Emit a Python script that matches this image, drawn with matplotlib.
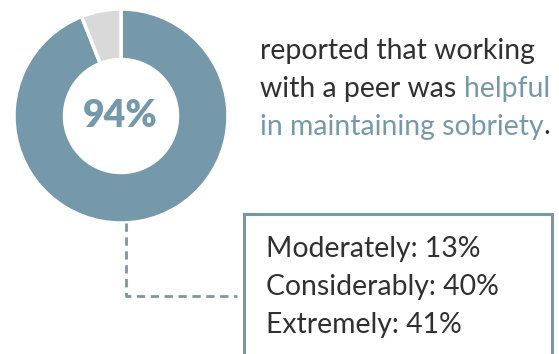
import matplotlib
matplotlib.use("Agg")
import matplotlib.pyplot as plt
from matplotlib.patches import Rectangle

# data
shares = [94, 6]
share_labels = ["helpful", "not helpful"]
center_label = "94%"
detail_labels = ["Moderately", "Considerably", "Extremely"]
detail_values = [13, 40, 41]

BLUE = "#7599ab"
GREY = "#d9d9d9"
DARK = "#303030"

W, H = 559, 354
fig = plt.figure(figsize=(W / 100, H / 100), dpi=100)
ax = fig.add_axes([0, 0, 1, 1])
ax.set_xlim(0, W)
ax.set_ylim(0, H)
ax.set_aspect("equal")
ax.axis("off")

def Y(y):
    return H - y

cx, cy, R, r_in = 121, 116, 107, 56.5
ax.pie(shares, colors=[BLUE, GREY], startangle=90, counterclock=False,
       center=(cx, Y(cy)), radius=R, frame=True,
       wedgeprops=dict(width=R - r_in, edgecolor="white", linewidth=2.5))
ax.set_xlim(0, W)
ax.set_ylim(0, H)
ax.axis("off")

ax.text(cx - 1, Y(116), center_label, ha="center", va="center",
        fontsize=27, fontweight="heavy", family="Lato", color=BLUE)

# headline text with mixed colors
fig.canvas.draw()
renderer = fig.canvas.get_renderer()
FS = 20.4
lines = [
    [("reported that working", DARK)],
    [("with a peer was ", DARK), ("helpful", BLUE)],
    [("in maintaining sobriety", BLUE), (".", DARK)],
]
line_y = [49, 86.5, 124]
for parts, yy in zip(lines, line_y):
    x = 260
    for s, c in parts:
        t = ax.text(x, Y(yy), s, ha="left", va="center_baseline", fontsize=FS,
                    family="Lato", fontweight="normal", color=c)
        bb = t.get_window_extent(renderer=renderer)
        x += bb.width * (W / fig.bbox.width)

# box
ax.add_patch(Rectangle((244, Y(370)), 308, 370 - 214, fill=False,
                       edgecolor=BLUE, linewidth=2.2, clip_on=True))
for i, (lab, v) in enumerate(zip(detail_labels, detail_values)):
    ax.text(266, Y([247, 284, 322][i]), f"{lab}: {v}%", ha="left",
            va="center_baseline", fontsize=FS, family="Lato",
            fontweight="normal", color=DARK)

# dashed connector
ax.plot([126, 126, 237], [Y(223), Y(296), Y(296)], color=BLUE,
        linewidth=2, linestyle=(0, (3, 2)), solid_capstyle="butt")

fig.savefig("out.png", dpi=100)
